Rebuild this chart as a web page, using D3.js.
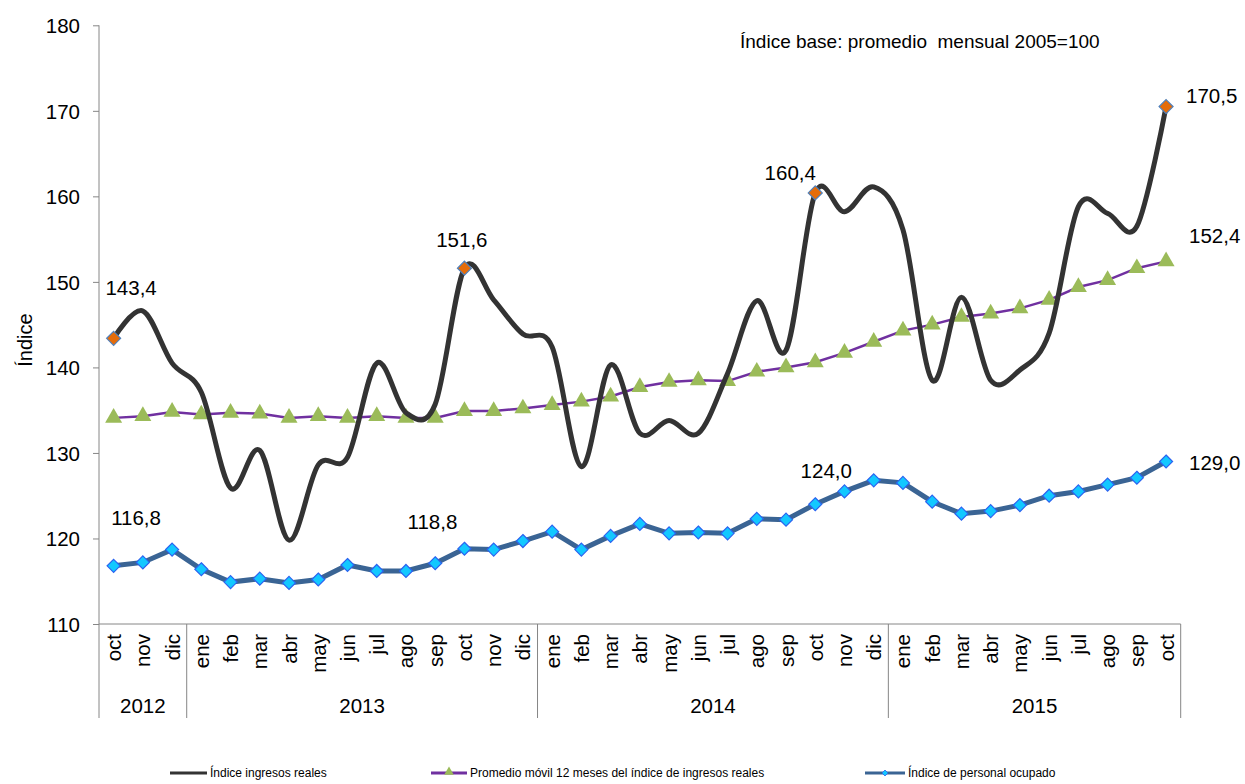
<!DOCTYPE html>
<html>
<head>
<meta charset="utf-8">
<title>Índice ingresos reales</title>
<style>
body { margin: 0; background: #fff; }
svg text { font-family: "Liberation Sans", Arial, sans-serif; fill: #000; }
</style>
<script src="https://cdn.jsdelivr.net/npm/d3@7"></script>
</head>
<body>
<svg id="chart" width="1245" height="784"></svg>
<script>
// categorias (oct 2012 - oct 2015)
var months = ["oct","nov","dic",
	"ene","feb","mar","abr","may","jun","jul","ago","sep","oct","nov","dic",
	"ene","feb","mar","abr","may","jun","jul","ago","sep","oct","nov","dic",
	"ene","feb","mar","abr","may","jun","jul","ago","sep","oct"];
var years = ["2012","2012","2012",
	"2013","2013","2013","2013","2013","2013","2013","2013","2013","2013","2013","2013",
	"2014","2014","2014","2014","2014","2014","2014","2014","2014","2014","2014","2014",
	"2015","2015","2015","2015","2015","2015","2015","2015","2015","2015"];

var ingresos = [143.4,146.6,140.5,
	137.1,125.9,130.3,119.8,128.6,129.5,140.5,134.7,135.7,151.6,147.9,143.9,
	142.4,128.4,140.3,132.3,133.8,132.3,139.3,147.8,142.0,160.4,158.2,161.1,
	156.1,138.5,148.2,138.5,139.7,144.0,158.8,158.0,156.5,170.5];
var promedio = [134.1,134.3,134.8,
	134.5,134.7,134.6,134.1,134.3,134.1,134.3,134.1,134.1,134.9,134.9,135.2,
	135.6,136.0,136.6,137.7,138.3,138.5,138.4,139.5,140.0,140.6,141.7,143.0,
	144.3,145.0,145.9,146.3,146.9,147.9,149.4,150.2,151.6,152.4];
var personal = [116.8,117.2,118.7,
	116.4,114.9,115.3,114.8,115.2,116.9,116.2,116.2,117.1,118.8,118.7,119.7,
	120.8,118.7,120.3,121.7,120.6,120.7,120.6,122.3,122.2,124.0,125.5,126.8,
	126.5,124.3,122.9,123.2,123.9,125.0,125.5,126.3,127.1,129.0];

var yTicks = [110,120,130,140,150,160,170,180];
var destacados = [0, 12, 24, 36]; // octubres resaltados

var svg = d3.select("#chart");
var plotLeft = 99, plotRight = 1180.7, plotTop = 25.3, plotBottom = 624;

var x = d3.scaleBand().domain(d3.range(months.length)).range([plotLeft, plotRight]);
var cx = function (i) { return x(i) + x.bandwidth() / 2; };
var y = d3.scaleLinear().domain([110, 180]).range([plotBottom, plotTop]);

// eje y
var yAxis = svg.append("g")
	.attr("transform", "translate(" + plotLeft + ",0)")
	.call(d3.axisLeft(y).tickValues(yTicks).tickSize(6).tickPadding(13));
yAxis.select(".domain").attr("stroke", "#868686").attr("d", "M0," + plotTop + "V" + 718);
yAxis.selectAll(".tick line").attr("stroke", "#868686");
yAxis.selectAll(".tick text").style("font-size", "20.5px").attr("dy", "0.36em");

svg.append("text")
	.attr("transform", "translate(32,340) rotate(-90)")
	.attr("text-anchor", "middle")
	.style("font-size", "20px")
	.text("Índice");

// eje x: linea base, meses, años
svg.append("line").attr("x1", plotLeft).attr("x2", plotRight).attr("y1", plotBottom).attr("y2", plotBottom)
	.attr("stroke", "#868686");

svg.append("g").selectAll("text").data(months).enter().append("text")
	.attr("transform", function (d, i) { return "translate(" + (cx(i) + 7.5) + ",634) rotate(-90)"; })
	.attr("text-anchor", "end")
	.style("font-size", "20.5px")
	.text(function (d) { return d; });

var groups = [];
years.forEach(function (yr, i) {
	if (!groups.length || groups[groups.length - 1].label != yr)
		groups.push({label: yr, first: i, last: i});
	else
		groups[groups.length - 1].last = i;
});

svg.append("g").selectAll("line").data(groups).enter().append("line")
	.attr("x1", function (g) { return x(g.last) + x.bandwidth(); })
	.attr("x2", function (g) { return x(g.last) + x.bandwidth(); })
	.attr("y1", plotBottom).attr("y2", 718)
	.attr("stroke", "#868686");

svg.append("g").selectAll("text").data(groups).enter().append("text")
	.attr("x", function (g) { return (x(g.first) + x(g.last) + x.bandwidth()) / 2; })
	.attr("y", 713)
	.attr("text-anchor", "middle")
	.style("font-size", "20.5px")
	.text(function (g) { return g.label; });

// series
var smooth = d3.line().x(function (d, i) { return cx(i); }).y(function (d) { return y(d); })
	.curve(d3.curveCardinal.tension(0));
var straight = d3.line().x(function (d, i) { return cx(i); }).y(function (d) { return y(d); });

svg.append("path").datum(promedio).attr("d", straight)
	.attr("fill", "none").attr("stroke", "#7030A0").attr("stroke-width", 2.5);

var tri = d3.symbol().type(d3.symbolTriangle).size(125);
svg.append("g").selectAll("path").data(promedio).enter().append("path")
	.attr("d", tri)
	.attr("transform", function (d, i) { return "translate(" + cx(i) + "," + y(d) + ")"; })
	.attr("fill", "#9BBB59");

svg.append("path").datum(ingresos).attr("d", smooth)
	.attr("fill", "none").attr("stroke", "#333333").attr("stroke-width", 5)
	.attr("stroke-linejoin", "round");

svg.append("path").datum(personal).attr("d", straight)
	.attr("fill", "none").attr("stroke", "#3A6494").attr("stroke-width", 5);

var diamond = function (s) { return "M0," + (-s) + "L" + s + ",0L0," + s + "L" + (-s) + ",0Z"; };

svg.append("g").selectAll("path").data(personal).enter().append("path")
	.attr("d", diamond(6.5))
	.attr("transform", function (d, i) { return "translate(" + cx(i) + "," + y(d) + ")"; })
	.attr("fill", "#12C8FF").attr("stroke", "#2B63F0").attr("stroke-width", 1.2);

svg.append("g").selectAll("path").data(destacados).enter().append("path")
	.attr("d", diamond(7))
	.attr("transform", function (i) { return "translate(" + cx(i) + "," + y(ingresos[i]) + ")"; })
	.attr("fill", "#E46C0A").attr("stroke", "#4F81BD").attr("stroke-width", 1.2);

// etiquetas de datos
var fmt = function (v) { return v.toFixed(1).replace(".", ","); };
var etiquetas = [
	{serie: ingresos, i: 0, dx: 17.5, dy: -43},
	{serie: ingresos, i: 12, dx: -2.6, dy: -21},
	{serie: ingresos, i: 24, dx: -25, dy: -13},
	{serie: ingresos, i: 36, dx: 45.6, dy: -3.5},
	{serie: promedio, i: 36, dx: 48.6, dy: -18},
	{serie: personal, i: 0, dx: 22.4, dy: -41},
	{serie: personal, i: 12, dx: -32, dy: -20},
	{serie: personal, i: 24, dx: 11, dy: -26},
	{serie: personal, i: 36, dx: 48.6, dy: 8.5}
];
svg.append("g").selectAll("text").data(etiquetas).enter().append("text")
	.attr("x", function (e) { return cx(e.i) + e.dx; })
	.attr("y", function (e) { return y(e.serie[e.i]) + e.dy; })
	.attr("text-anchor", "middle")
	.style("font-size", "20.5px")
	.text(function (e) { return fmt(e.serie[e.i]); });

svg.append("text")
	.attr("x", 740).attr("y", 48)
	.style("font-size", "19px")
	.style("white-space", "pre")
	.text("Índice base: promedio  mensual 2005=100");

// leyenda
var legend = svg.append("g").attr("transform", "translate(0,773)");
legend.append("line").attr("x1", 170).attr("x2", 207).attr("stroke", "#333333").attr("stroke-width", 3);
legend.append("text").attr("x", 210).attr("y", 4).style("font-size", "12px").text("Índice ingresos reales");

legend.append("line").attr("x1", 431).attr("x2", 467).attr("stroke", "#7030A0").attr("stroke-width", 3);
legend.append("path").attr("d", d3.symbol().type(d3.symbolTriangle).size(40))
	.attr("transform", "translate(449,-1)").attr("fill", "#9BBB59");
legend.append("text").attr("x", 470).attr("y", 4).style("font-size", "12px")
	.text("Promedio móvil 12 meses del índice de ingresos reales");

legend.append("line").attr("x1", 865).attr("x2", 905).attr("stroke", "#3A6494").attr("stroke-width", 3);
legend.append("path").attr("d", diamond(3)).attr("transform", "translate(885,0)")
	.attr("fill", "#12C8FF").attr("stroke", "#2B63F0").attr("stroke-width", 0.8);
legend.append("text").attr("x", 908).attr("y", 4).style("font-size", "12px").text("Índice de personal ocupado");
</script>
</body>
</html>
